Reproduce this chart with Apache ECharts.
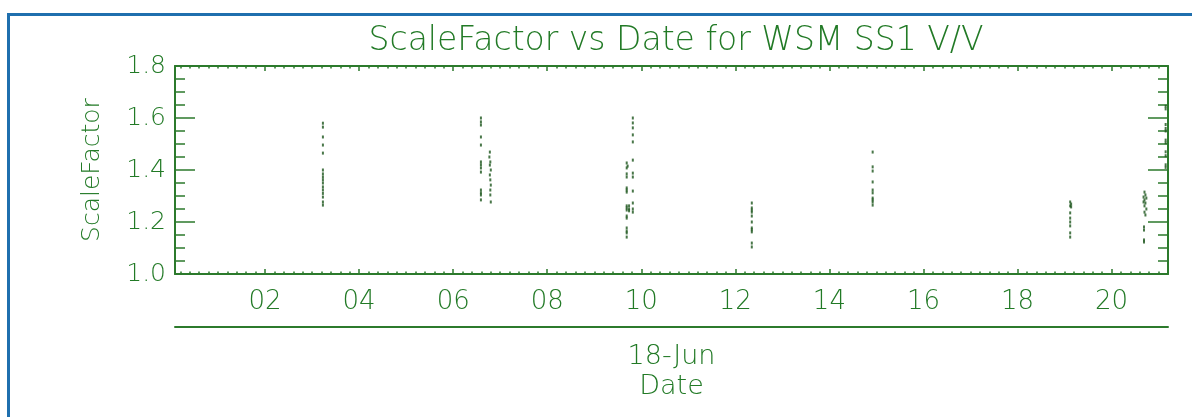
<!DOCTYPE html>
<html>
<head>
<meta charset="utf-8">
<script src="https://cdn.jsdelivr.net/npm/echarts@6/dist/echarts.min.js"></script>
<style>
  html, body { margin: 0; padding: 0; background: #fff; }
  #frame {
    position: absolute; left: 7px; top: 13px; width: 1185px; height: 404px;
    border-top: 3px solid #1f6fae; border-left: 3px solid #1f6fae; box-sizing: border-box;
  }
  #chart { position: absolute; left: 0; top: 0; width: 1192px; height: 417px; }
</style>
</head>
<body>
<div id="frame"></div>
<div id="chart"></div>
<script>
// hours of 18-Jun, ScaleFactor
const pass1 = [[3.23,1.58],[3.23,1.565],[3.23,1.527],[3.23,1.496],[3.23,1.465],[3.23,1.40],[3.23,1.385],[3.23,1.373],
  [3.23,1.362],[3.23,1.35],[3.23,1.335],[3.23,1.323],[3.23,1.31],[3.23,1.296],[3.23,1.277],[3.23,1.265]]
const pass2 = [[6.59,1.60],[6.59,1.585],[6.59,1.573],[6.59,1.527],[6.59,1.496],[6.59,1.431],[6.59,1.42],[6.59,1.408],
  [6.59,1.392],[6.59,1.323],[6.59,1.312],[6.59,1.304],[6.59,1.285],
  [6.78,1.469],[6.77,1.45],[6.79,1.431],[6.78,1.419],[6.80,1.40],[6.78,1.381],[6.79,1.362],[6.80,1.342],
  [6.79,1.323],[6.79,1.304],[6.80,1.277]]
const pass3 = [[9.69,1.427],[9.71,1.415],[9.69,1.408],[9.69,1.385],[9.69,1.373],[9.69,1.331],[9.69,1.323],[9.69,1.315],
  [9.69,1.262],[9.69,1.254],[9.69,1.246],[9.69,1.223],[9.69,1.215],[9.69,1.177],[9.69,1.165],[9.69,1.158],[9.69,1.142],
  [9.82,1.60],[9.82,1.581],[9.82,1.562],[9.82,1.535],[9.82,1.508],[9.82,1.438],[9.82,1.388],[9.82,1.373],
  [9.82,1.319],[9.82,1.273],[9.82,1.25],[9.82,1.238],[9.74,1.262],[9.74,1.25],[9.74,1.243]]
const pass4 = [[12.35,1.273],[12.35,1.254],[12.35,1.246],[12.35,1.238],[12.35,1.223],[12.35,1.20],[12.35,1.177],
  [12.35,1.17],[12.35,1.162],[12.35,1.119],[12.35,1.104]]
const pass5 = [[14.92,1.469],[14.92,1.412],[14.92,1.396],[14.92,1.354],[14.92,1.323],[14.92,1.312],[14.92,1.292],
  [14.92,1.285],[14.92,1.277],[14.92,1.265]]
const pass6 = [[19.12,1.277],[19.14,1.269],[19.12,1.262],[19.14,1.258],[19.12,1.235],[19.12,1.215],[19.12,1.20],
  [19.12,1.185],[19.12,1.158],[19.12,1.142]]
const pass7 = [[20.70,1.315],[20.72,1.304],[20.68,1.296],[20.74,1.292],[20.70,1.285],[20.68,1.277],[20.72,1.273],
  [20.70,1.262],[20.74,1.25],[20.70,1.238],[20.72,1.227],[20.69,1.181],[20.69,1.169],[20.69,1.131],[20.69,1.123]]
const pass8 = [[21.15,1.645],[21.15,1.635],[21.15,1.575],[21.15,1.56],[21.15,1.55],[21.15,1.515],[21.15,1.505],
  [21.15,1.47],[21.15,1.455],[21.15,1.42],[21.15,1.41]]

const xTickHours = [2, 4, 6, 8, 10, 12, 14, 16, 18, 20]
const xTickLabels = ['02', '04', '06', '08', '10', '12', '14', '16', '18', '20']
const xMin = 0.085
const xMax = 21.2

const green = '#227a26'
const lineGreen = '#2c7a2c'
const font = 'DejaVu Sans'
const weight = 200

// minor ticks every 12 minutes
const xMinorHours = []
for (let i = 1; i <= 106; i++) {
  const h = i * 0.2
  if (h > xMin && h < xMax && Math.abs(h / 2 - Math.round(h / 2)) > 0.01) xMinorHours.push(h)
}

function xAxisPart(position, ticks, len, showLine) {
  return {
    type: 'value', min: xMin, max: xMax, position: position,
    axisLine: { show: showLine, onZero: false, lineStyle: { color: lineGreen, width: 2 } },
    axisTick: { show: true, inside: true, length: len, customValues: ticks, lineStyle: { color: lineGreen, width: 1.5 } },
    axisLabel: { show: false },
    splitLine: { show: false }
  }
}

const chart = echarts.init(document.getElementById('chart'))
chart.setOption({
  animation: false,
  title: {
    text: 'ScaleFactor vs Date for WSM SS1 V/V',
    left: 671, top: 20, textAlign: 'center',
    textStyle: { color: green, fontFamily: font, fontWeight: weight, fontSize: 33 }
  },
  grid: { left: 175, top: 66, right: 24, bottom: 143, outerBoundsMode: 'none' },
  xAxis: [
    Object.assign(xAxisPart('bottom', xTickHours, 5, true), {
      axisLabel: {
        show: true, customValues: xTickHours, margin: 15,
        color: green, fontFamily: font, fontWeight: weight, fontSize: 26,
        formatter: v => xTickLabels[xTickHours.indexOf(Math.round(v))]
      }
    }),
    xAxisPart('bottom', xMinorHours, 2.5, false),
    xAxisPart('top', xTickHours, 5, true),
    xAxisPart('top', xMinorHours, 2.5, false),
    {
      type: 'value', min: xMin, max: xMax, position: 'bottom', offset: 53,
      axisLine: { show: true, onZero: false, lineStyle: { color: lineGreen, width: 2 } },
      axisTick: { show: false }, axisLabel: { show: false }, splitLine: { show: false },
      name: '18-Jun\nDate', nameLocation: 'middle', nameGap: 15,
      nameTextStyle: { color: green, fontFamily: font, fontWeight: weight, fontSize: 27, lineHeight: 30 }
    }
  ],
  yAxis: [
    {
      type: 'value', min: 1.0, max: 1.8, interval: 0.2, position: 'left',
      name: 'ScaleFactor', nameLocation: 'middle', nameRotate: 90, nameGap: 70,
      nameTextStyle: { color: green, fontFamily: font, fontWeight: weight, fontSize: 25 },
      axisLine: { show: true, lineStyle: { color: lineGreen, width: 2 } },
      axisTick: { show: true, inside: true, length: 20, lineStyle: { color: lineGreen, width: 1.5 } },
      minorTick: { show: true, splitNumber: 4, length: 10, lineStyle: { color: lineGreen, width: 1.5 } },
      axisLabel: { color: green, fontFamily: font, fontWeight: weight, fontSize: 25, margin: 9, formatter: v => v.toFixed(1) },
      splitLine: { show: false }
    },
    {
      type: 'value', min: 1.0, max: 1.8, interval: 0.2, position: 'right',
      axisLine: { show: true, lineStyle: { color: lineGreen, width: 2 } },
      axisTick: { show: true, inside: true, length: 20, lineStyle: { color: lineGreen, width: 1.5 } },
      minorTick: { show: true, splitNumber: 4, length: 10, lineStyle: { color: lineGreen, width: 1.5 } },
      axisLabel: { show: false },
      splitLine: { show: false }
    }
  ],
  series: [{
    type: 'scatter',
    symbol: 'rect',
    symbolSize: [2, 3],
    itemStyle: { color: '#1b551b' },
    data: [].concat(pass1, pass2, pass3, pass4, pass5, pass6, pass7, pass8)
  }]
})
</script>
</body>
</html>
